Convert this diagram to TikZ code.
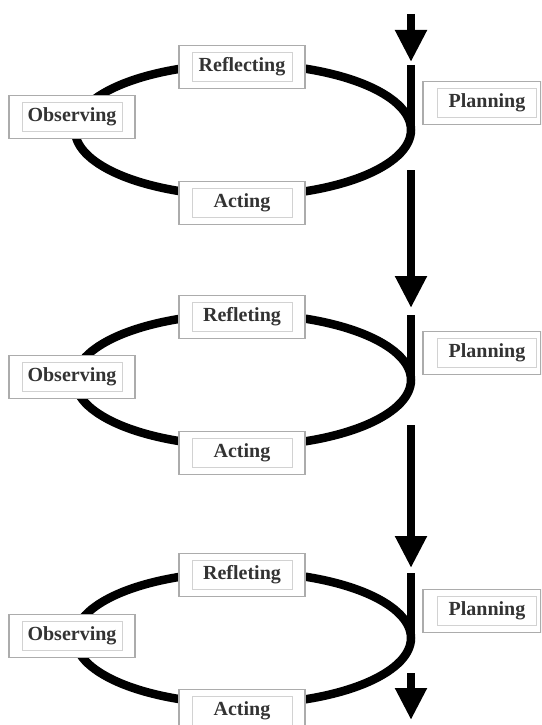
\documentclass[tikz,border=0pt]{standalone}
\usepackage{fontspec}
\setmainfont{Liberation Serif}
\usetikzlibrary{arrows.meta}

\begin{document}
\begin{tikzpicture}[
  x=1pt, y=-1pt,
  font=\fontsize{20}{22}\selectfont\bfseries,
  ring/.style={line width=8.5pt},
  flow/.style={line width=8.5pt},
  flowarrow/.style={flow,-{Triangle[width=30pt,length=32pt]}},
  outerbox/.style={draw=gray!65,line width=1.1pt,fill=white,minimum width=126pt,minimum height=43pt,inner sep=0pt},
  innerbox/.style={draw=gray!35,line width=0.8pt,minimum width=100pt,minimum height=29pt,inner sep=0pt,text=black!80},
]

% ---- canvas ----
\useasboundingbox (0,0) rectangle (541,725);
\clip (0,0) rectangle (541,725);

% ---- parameters ----
\def\cx{243}   % ellipse centre x
\def\vx{411}   % x of the vertical flow
\def\rx{168}
\def\ry{66}

% ========================= cycles =========================
% \i / ellipse centre y / shift of Observing / top label
\foreach \i/\yc/\yo/\lab in {1/130/-13/Reflecting,2/380/-3/Refleting,3/638/-2/Refleting}{
  \coordinate (c\i) at (\cx,\yc);
  \coordinate (r\i) at (\vx,\yc);
  \coordinate (top\i) at (\vx,\yc-65);

  \draw[ring] (c\i) ellipse [x radius=\rx, y radius=\ry];
  \draw[flow] (top\i) -- (r\i);

  \node[outerbox] (refl\i) at (242,\yc-63) {};
  \node[innerbox] (refltxt\i) at (refl\i) {\lab};

  \node[outerbox] (obs\i) at (72,\yc+\yo) {};
  \node[innerbox] (obstxt\i) at (obs\i) {Observing};

  \node[outerbox] (act\i) at (242,\yc+73) {};
  \node[innerbox] (acttxt\i) at (act\i) {Acting};

  \node[outerbox,minimum width=118pt] (plan\i) at (482,\yc-27) {};
  \node[innerbox,minimum width=99pt] (plantxt\i) at (487,\yc-27) {Planning};
}

% ========================= arrows between cycles =========================
\foreach \k/\ya/\yb in {1/14/62,2/170/308,3/425/568,4/673/720}{
  \coordinate (out\k) at (\vx,\ya);
  \coordinate (in\k) at (\vx,\yb);
  \draw[flowarrow] (out\k) -- (in\k);
}

\end{tikzpicture}
\end{document}
